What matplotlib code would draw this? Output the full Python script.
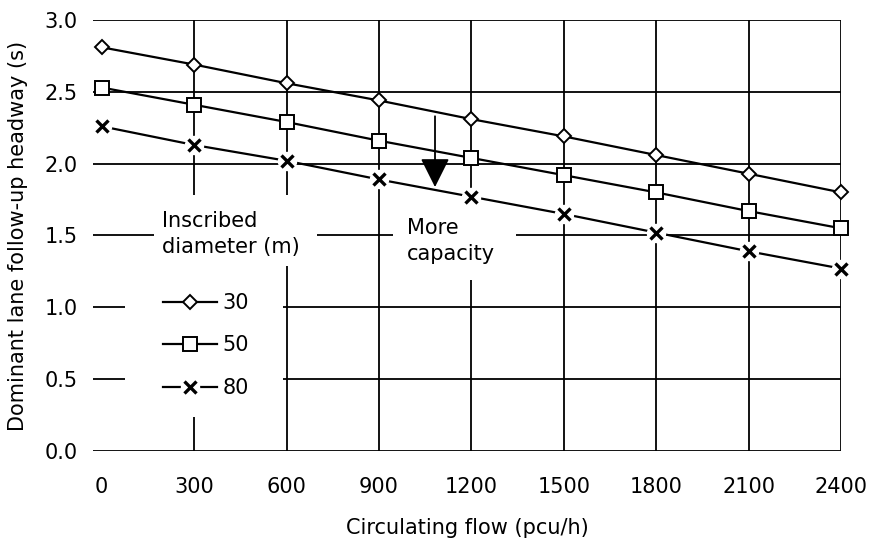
import numpy as np
import matplotlib.pyplot as plt
from matplotlib.patches import Rectangle
from matplotlib.legend_handler import HandlerTuple

plt.rcParams['font.family'] = ['DejaVu Sans']

# circulating flow (pcu/h)
flow = [0, 300, 600, 900, 1200, 1500, 1800, 2100, 2400]
# follow-up headway (s) for each inscribed diameter
d30 = [2.81, 2.69, 2.56, 2.44, 2.31, 2.19, 2.06, 1.93, 1.80]
d50 = [2.53, 2.41, 2.29, 2.16, 2.04, 1.92, 1.80, 1.67, 1.55]
d80 = [2.26, 2.13, 2.02, 1.89, 1.77, 1.65, 1.52, 1.39, 1.27]
yticks = [0.0, 0.5, 1.0, 1.5, 2.0, 2.5, 3.0]
labels = ['30', '50', '80']

FS = 15

fig = plt.figure(figsize=(8.72, 5.45), dpi=100)
ax = fig.add_axes([0.1067, 0.1725, 0.8578, 0.7908])

# grid lines drawn by hand so there is no left border
for y in yticks:
    ax.axhline(y, color='black', lw=1.3, zorder=1)
for x in flow[1:]:
    ax.axvline(x, color='black', lw=1.3, zorder=1)

# white areas behind the legend and note, as in the original figure
for (x0, y0, w, h) in [(0.043, 0.079, 0.211, 0.36),
                       (0.082, 0.43, 0.217, 0.164),
                       (0.401, 0.397, 0.164, 0.185)]:
    ax.add_patch(Rectangle((x0, y0), w, h, transform=ax.transAxes,
                           fc='white', ec='none', zorder=2))

l30, = ax.plot(flow, d30, color='black', lw=1.6, marker='D', ms=7.5,
               mfc='white', mec='black', mew=1.4, zorder=4, clip_on=False)
l50, = ax.plot(flow, d50, color='black', lw=1.6, marker='s', ms=9.5,
               mfc='white', mec='black', mew=1.4, zorder=4, clip_on=False)
l80, = ax.plot(flow, d80, color='black', lw=1.6, zorder=4, clip_on=False)
# white blobs give the gaps round the cross markers
w80, = ax.plot(flow, d80, ls='none', marker='o', ms=14, mfc='white',
               mec='none', zorder=5, clip_on=False)
m80, = ax.plot(flow, d80, ls='none', marker='x', ms=9,
               mec='black', mew=2.4, zorder=6, clip_on=False)

# arrow for "more capacity"
ax.annotate('', xy=(1082, 1.837), xytext=(1082, 2.33),
            arrowprops=dict(arrowstyle='-|>,head_width=0.9,head_length=1.8',
                            color='black', lw=1.3, shrinkA=0, shrinkB=0),
            zorder=7)
ax.text(0.42, 0.487, 'More\ncapacity', transform=ax.transAxes, fontsize=FS,
        ha='left', va='center', linespacing=1.35, zorder=8)

ax.text(0.092, 0.503, 'Inscribed\ndiameter (m)', transform=ax.transAxes,
        fontsize=FS, ha='left', va='center', linespacing=1.35, zorder=8)
leg = ax.legend([(l30,), (l50,), (l80, w80, m80)], labels,
                handler_map={tuple: HandlerTuple(ndivide=1)},
                fontsize=FS, loc='upper left', bbox_to_anchor=(0.0936, 0.367),
                frameon=False, borderpad=0, borderaxespad=0,
                handlelength=2.6, handletextpad=0.25, labelspacing=1.08)
leg.set_zorder(9)

ax.set_xlim(-28, 2400)
ax.set_ylim(0, 3)
ax.set_xticks(flow)
ax.set_yticks(yticks)
ax.set_yticklabels([f'{v:.1f}' for v in yticks])
for s in ax.spines.values():
    s.set_visible(False)
ax.tick_params(length=0, labelsize=FS)
ax.tick_params(axis='y', pad=11)
ax.tick_params(axis='x', pad=19)
ax.set_xlabel('Circulating flow (pcu/h)', fontsize=FS, labelpad=15)
ax.set_ylabel('Dominant lane follow-up headway (s)', fontsize=FS, labelpad=12)

fig.savefig('out.png', dpi=100)
